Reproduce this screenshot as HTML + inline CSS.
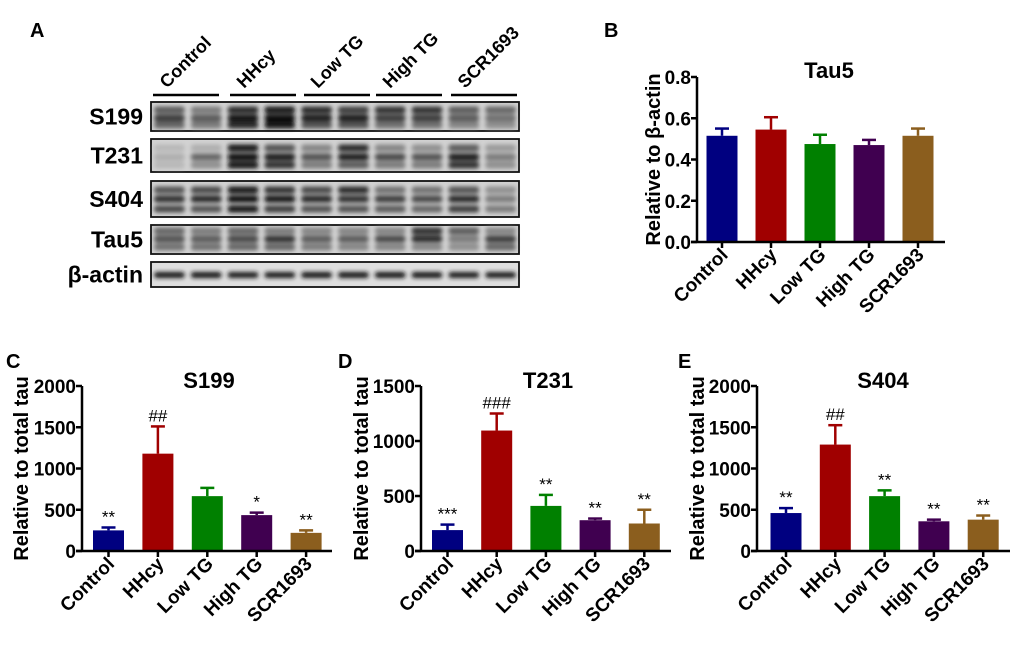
<!DOCTYPE html>
<html><head><meta charset="utf-8">
<style>
html,body{margin:0;padding:0;background:#fff;}
svg{display:block;font-family:"Liberation Sans",Arial,sans-serif;font-weight:bold;}
</style></head>
<body>
<svg id="fig" width="1020" height="648" viewBox="0 0 1020 648" xmlns="http://www.w3.org/2000/svg">
<defs>
<filter id="blur" x="-20%" y="-100%" width="140%" height="300%"><feGaussianBlur stdDeviation="2"/></filter>
</defs>
<g id="blot"></g>
<g id="charts"></g>
<text x="30" y="37" font-size="20">A</text>
<text x="604" y="37" font-size="20">B</text>
<text x="6" y="368" font-size="20">C</text>
<text x="338" y="368" font-size="20">D</text>
<text x="678" y="368" font-size="20">E</text>
</svg>
<script>
const NS="http://www.w3.org/2000/svg";
const categories=["Control","HHcy","Low TG","High TG","SCR1693"];
const colors=["#000080","#a00000","#008000","#400050","#8b5e1e"];

const tau5Values=[0.515,0.545,0.475,0.47,0.515];
const tau5Err=[0.035,0.06,0.045,0.025,0.035];
const tau5Ticks=[0,0.2,0.4,0.6,0.8];
const tau5Marks=["","","","",""];

const s199Values=[250,1180,665,435,220];
const s199Err=[35,330,100,30,30];
const s199Ticks=[0,500,1000,1500,2000];
const s199Marks=["**","##","","*","**"];

const t231Values=[190,1095,410,280,250];
const t231Err=[50,155,100,15,125];
const t231Ticks=[0,500,1000,1500];
const t231Marks=["***","###","**","**","**"];

const s404Values=[460,1290,665,360,380];
const s404Err=[60,235,70,20,50];
const s404Ticks=[0,500,1000,1500,2000];
const s404Marks=["**","##","**","**","**"];

const blotRows=["S199","T231","S404","Tau5","β-actin"];
const s199Bands=[[0.6,0.45,0.85,0.95,0.85,0.75,0.8,0.8,0.6,0.55],[0.75,0.6,0.95,1,0.9,0.9,0.75,0.75,0.6,0.5],[0.55,0.45,0.85,0.95,0.65,0.65,0.5,0.5,0.4,0.35]];
const t231Bands=[[0.15,0.2,0.95,0.65,0.4,0.85,0.4,0.35,0.6,0.3],[0.2,0.55,1,0.9,0.65,0.9,0.7,0.65,0.9,0.45],[0.15,0.35,0.95,0.8,0.45,0.6,0.45,0.45,0.8,0.35]];
const s404Bands=[[0.65,0.7,0.95,0.8,0.7,0.85,0.5,0.5,0.65,0.35],[0.8,0.85,1,0.95,0.85,0.8,0.75,0.7,0.85,0.45],[0.7,0.65,0.95,0.75,0.65,0.65,0.6,0.55,0.75,0.45]];
const tau5Bands=[[0.55,0.45,0.55,0.45,0.4,0.4,0.4,0.8,0.6,0.4],[0.65,0.6,0.7,0.8,0.6,0.6,0.7,0.85,0.45,0.75],[0.5,0.5,0.55,0.55,0.45,0.4,0.4,0.4,0.35,0.55]];
const actinBands=[[0.95,0.95,0.9,0.9,0.95,0.95,0.95,0.95,0.9,0.9]];

function el(tag,attrs,parent,txt){const e=document.createElementNS(NS,tag);for(const k in attrs)e.setAttribute(k,attrs[k]);if(txt!==undefined)e.textContent=txt;parent.appendChild(e);return e;}

const blot=document.getElementById('blot');
const bx0=151,bx1=519,laneW=(bx1-bx0)/10;
const rowsGeom=[[102,131,[110,118,125]],[139,172,[148,157,165]],[181,217,[190,199,209]],[225,254,[231,239,247]],[262,287,[275]]];
const bandData=[s199Bands,t231Bands,s404Bands,tau5Bands,actinBands];
rowsGeom.forEach((g,r)=>{
  const box=el('rect',{x:bx0,y:g[0],width:bx1-bx0,height:g[1]-g[0],fill:r==4?'#dedede':'#d2d2d2',stroke:'#111','stroke-width':1.8},blot);
  
  
  const lbl=el('text',{x:143,y:(g[0]+g[1])/2+8,'font-size':23,'text-anchor':'end'},blot,blotRows[r]);
  
  
  const gb=el('g',{filter:'url(#blur)'},blot);
  bandData[r].forEach((band,bi)=>{
    band.forEach((v,l)=>{
      const c=Math.round(215-205*v);
      const h=r==4?6:7;
      const b=el('rect',{x:bx0+l*laneW+3,y:g[2][bi]-h/2,width:laneW-6,height:h,rx:3,fill:`rgb(${c},${c},${c})`},gb);
      
      
    });
  });
});
const groupX=[[153,219],[230,296],[304,370],[376,442],[451,517]];
groupX.forEach((gx,i)=>{
  const ln=el('line',{x1:gx[0],x2:gx[1],y1:95,y2:95,stroke:'#000','stroke-width':2.5},blot);
  
  
  const t=el('text',{x:0,y:0,'font-size':18,transform:`translate(${gx[0]+14},${89}) rotate(-45)`},blot,categories[i]);
  
  
});

const charts=document.getElementById('charts');
function drawChart(cfg){
  const g=el('g',{},charts);
  
  
  const ymax=cfg.ticks[cfg.ticks.length-1];
  const Y=v=>cfg.y0-(v/ymax)*(cfg.y0-cfg.yTop);
  const X=i=>cfg.c0+i*cfg.pitch;
  cfg.values.forEach((v,i)=>{
    const cx=X(i),top=Y(v),et=Y(v+cfg.err[i]);
    const eb=el('line',{x1:cx,x2:cx,y1:top,y2:et,stroke:colors[i],'stroke-width':2.5},g);
    
    
    const cap=el('line',{x1:cx-7,x2:cx+7,y1:et,y2:et,stroke:colors[i],'stroke-width':2.5},g);
    
    
    const b=el('rect',{x:cx-cfg.bw/2,y:top,width:cfg.bw,height:cfg.y0-top,fill:colors[i]},g);
    
    
    if(cfg.marks[i]){
      const m=el('text',{x:cx,y:et-5,'font-size':cfg.markSize,'font-weight':'normal','text-anchor':'middle'},g,cfg.marks[i]);
      
      
    }
    const tk=el('line',{x1:cx,x2:cx,y1:cfg.y0,y2:cfg.y0+6,stroke:'#000','stroke-width':2.5},g);
    
    
    const lb=el('text',{x:0,y:0,'font-size':19,'text-anchor':'end',transform:`translate(${cx+7},${cfg.y0+14}) rotate(-45)`},g,categories[i]);
    
    
  });
  const ya=el('line',{x1:cfg.ax,x2:cfg.ax,y1:cfg.yTop,y2:cfg.y0,stroke:'#000','stroke-width':2.5},g);
  
  
  const xa=el('line',{x1:cfg.ax-6,x2:cfg.xEnd,y1:cfg.y0,y2:cfg.y0,stroke:'#000','stroke-width':2.5},g);
  
  
  cfg.ticks.forEach(t=>{
    const l=el('line',{x1:cfg.ax-6,x2:cfg.ax,y1:Y(t),y2:Y(t),stroke:'#000','stroke-width':2.5},g);
    
    
    const tx=el('text',{x:cfg.ax-6,y:Y(t)+7,'font-size':19,'text-anchor':'end'},g,cfg.fmt(t));
    
    
  });
  const yt=el('text',{x:0,y:0,'font-size':20,'text-anchor':'middle',transform:`translate(${cfg.ytX},${(cfg.y0+cfg.yTop)/2}) rotate(-90)`},g,cfg.ytitle);
  
  
  const ti=el('text',{x:cfg.titleX,y:cfg.titleY,'font-size':22,'text-anchor':'middle'},g,cfg.title);
  
  
}
drawChart({name:'chart-tau5',values:tau5Values,err:tau5Err,ticks:tau5Ticks,marks:tau5Marks,ax:697,xEnd:945,y0:242,yTop:77,c0:722,pitch:49,bw:31,fmt:t=>t.toFixed(1),ytitle:'Relative to β-actin',ytX:660,title:'Tau5',titleX:829,titleY:78,markSize:16});
drawChart({name:'chart-s199',values:s199Values,err:s199Err,ticks:s199Ticks,marks:s199Marks,ax:82,xEnd:332,y0:551,yTop:386,c0:108.5,pitch:49.4,bw:31,fmt:t=>String(t),ytitle:'Relative to total tau',ytX:28,title:'S199',titleX:209,titleY:388,markSize:17});
drawChart({name:'chart-t231',values:t231Values,err:t231Err,ticks:t231Ticks,marks:t231Marks,ax:421,xEnd:671,y0:551,yTop:386,c0:447.5,pitch:49.2,bw:31,fmt:t=>String(t),ytitle:'Relative to total tau',ytX:368,title:'T231',titleX:548,titleY:388,markSize:17});
drawChart({name:'chart-s404',values:s404Values,err:s404Err,ticks:s404Ticks,marks:s404Marks,ax:757,xEnd:1010,y0:551,yTop:386,c0:786,pitch:49.3,bw:31,fmt:t=>String(t),ytitle:'Relative to total tau',ytX:704,title:'S404',titleX:883,titleY:388,markSize:17});
</script>
</body></html>
